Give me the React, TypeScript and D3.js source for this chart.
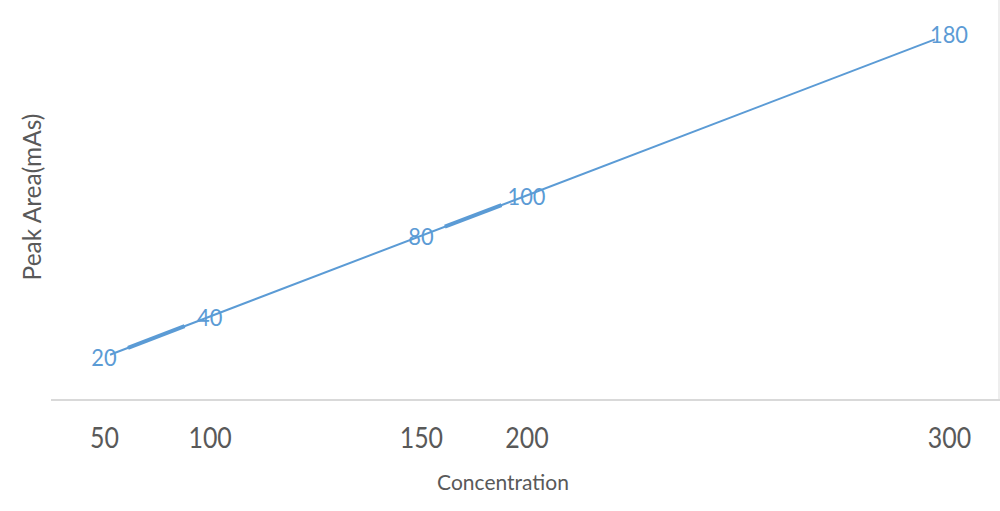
import React, { useEffect, useRef } from 'react';
import { select, scaleLinear, axisBottom, line } from 'd3';

// concentration ticks, plotted at the position of their peak area
const concentrations = [50, 100, 150, 200, 300];
const peakAreas = [20, 40, 80, 100, 180];
// pairs of points joined by the heavier segment
const heavyPairs: [number, number][] = [[0, 1], [2, 3]];

const App: React.FC = () => {
    const svgRef = useRef<SVGSVGElement>(null);

    useEffect(() => {
        if (!svgRef.current) return;
        const width = 1000;
        const height = 511;
        const svg = select(svgRef.current);
        svg.attr('width', width).attr('height', height).html('');

        const blue = '#5b9bd5';
        const grey = '#595959';
        const font = 'Lato, "Open Sans", sans-serif';

        const x = scaleLinear().domain([20, 180]).range([104, 949]);
        const y = scaleLinear().domain([20, 180]).range([357, 34]);
        const axisY = 400;

        // right border of the chart area
        svg.append('line')
            .attr('x1', 999).attr('x2', 999)
            .attr('y1', 0).attr('y2', axisY)
            .style('stroke', '#e8e8e8')
            .style('stroke-width', 1.5);

        // category axis
        const ax = svg.append('g')
            .attr('transform', `translate(0, ${axisY})`)
            .call(axisBottom(x)
                .tickValues(peakAreas)
                .tickFormat((_, i) => String(concentrations[i]))
                .tickSize(0)
                .tickPadding(28));
        ax.select('.domain').remove();
        ax.selectAll('text')
            .attr('transform', 'scale(0.89, 1)')
            .style('font-family', font)
            .style('font-size', '28px')
            .style('fill', grey);

        svg.append('line')
            .attr('x1', 51).attr('x2', 1000)
            .attr('y1', axisY).attr('y2', axisY)
            .style('stroke', '#d9d9d9')
            .style('stroke-width', 2);

        const pts = peakAreas.map(v => [x(v), y(v)] as [number, number]);
        const first = pts[0];
        const last = pts[pts.length - 1];
        const dx = last[0] - first[0];
        const dy = last[1] - first[1];
        const along = (p: [number, number], px: number): [number, number] =>
            [p[0] + px, p[1] + (px * dy) / dx];

        const path = line<[number, number]>();

        svg.append('path')
            .attr('d', path([along(first, 6), along(last, -14)]))
            .style('fill', 'none')
            .style('stroke', blue)
            .style('stroke-width', 2);

        heavyPairs.forEach(([a, b]) => {
            svg.append('path')
                .attr('d', path([along(pts[a], 24), along(pts[b], -25)]))
                .style('fill', 'none')
                .style('stroke', blue)
                .style('stroke-width', 4);
        });

        // data labels
        const labels = svg.selectAll('.dl')
            .data(peakAreas)
            .enter()
            .append('g')
            .attr('transform', d => `translate(${x(d)}, ${y(d) + 9}) scale(0.91, 1)`);
        labels.append('text')
            .attr('text-anchor', 'middle')
            .style('font-family', font)
            .style('font-size', '24px')
            .style('fill', blue)
            .text(d => d);

        svg.append('text')
            .attr('x', 503)
            .attr('y', 490)
            .attr('text-anchor', 'middle')
            .style('font-family', font)
            .style('font-size', '21px')
            .style('fill', grey)
            .text('Concentration');

        svg.append('text')
            .attr('transform', 'translate(41, 197) rotate(-90)')
            .attr('text-anchor', 'middle')
            .style('font-family', font)
            .style('font-size', '24.5px')
            .style('fill', grey)
            .text('Peak Area(mAs)');
    }, []);

    return (
        <svg ref={svgRef} style={{ position: 'absolute', left: 0, top: 0, background: '#fff' }}></svg>
    );
};

export default App;
